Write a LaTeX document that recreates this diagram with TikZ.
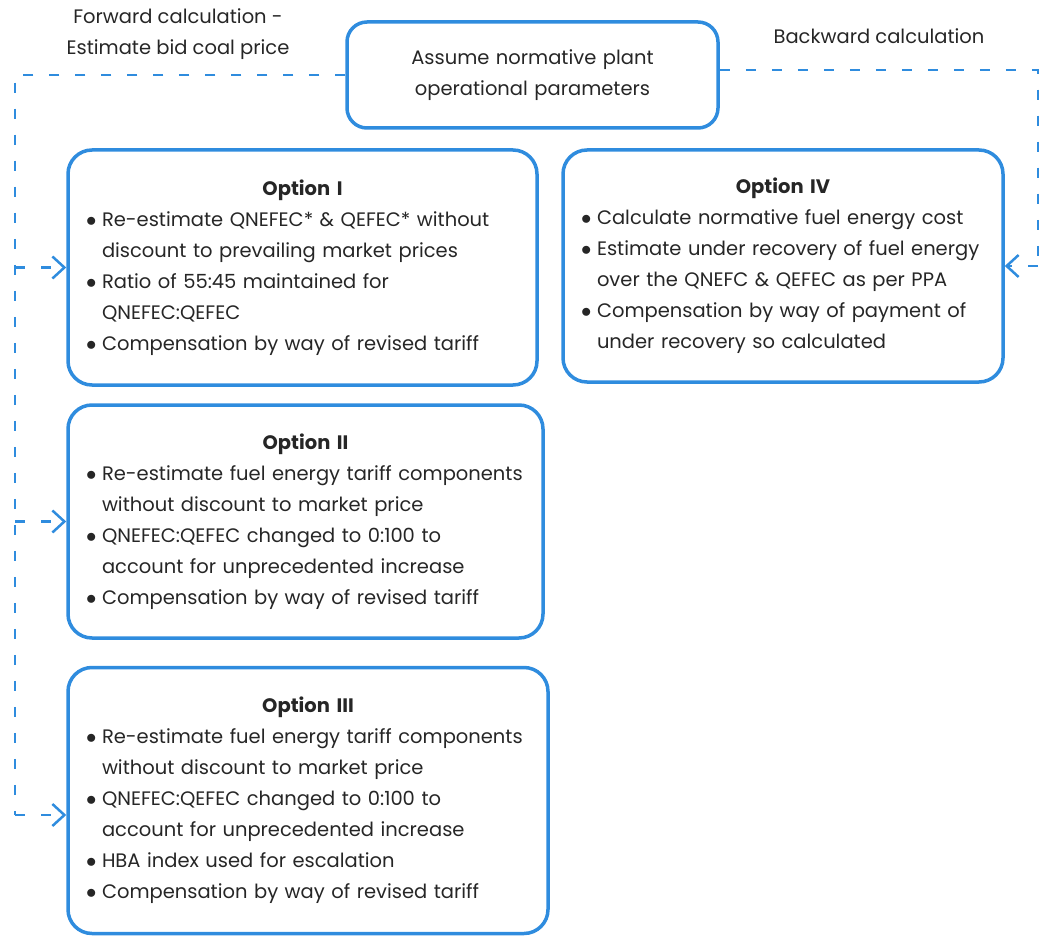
\documentclass[tikz,border=0pt]{standalone}
\usepackage{fontspec}
\setmainfont{Poppins}
\usetikzlibrary{arrows.meta}

\definecolor{flowblue}{RGB}{47,140,222}
\definecolor{inktext}{RGB}{38,38,38}

\newcommand{\optfont}{\fontsize{19.5}{31}\selectfont\hyphenpenalty=10000\exhyphenpenalty=10000}
\newcommand{\opttitle}[1]{{\centering\bfseries #1\par}}
\newcommand{\optbul}[1]{\par\hangindent=16pt\hangafter=1\noindent\makebox[16pt][l]{$\bullet$}#1\par}

\tikzset{
  optbox/.style={draw=flowblue, line width=3.5pt, rounded corners=24pt,
    text=inktext, font=\optfont, align=left, inner xsep=18pt, inner ysep=0pt},
  topbox/.style={optbox, align=center, rounded corners=20pt},
  sidelabel/.style={text=inktext, font=\optfont, align=center, inner sep=0pt},
  flowdash/.style={draw=flowblue, line width=2.5pt, dash pattern=on 10pt off 16pt},
  flowarrow/.style={flowdash, -{Straight Barb[length=12pt,width=22pt,line width=2.5pt]}}
}

\begin{document}
\begin{tikzpicture}[x=1pt,y=-1pt]
    \useasboundingbox (0,0) rectangle (1041,936);

    \node[topbox, text width=335pt, minimum height=106pt] (assume) at (532.5,75)
        {Assume normative plant\\operational parameters\\[-7pt]};

    \node[sidelabel] (fwdlabel) at (178,34) {Forward calculation -\\Estimate bid coal price};
    \node[sidelabel] (bwdlabel) at (879,36) {Backward calculation};

    \node[optbox, text width=433pt, minimum height=235pt] (opt1) at (302.5,267.5) {%
        \opttitle{Option I}
        \optbul{Re-estimate QNEFEC* \& QEFEC* without\newline discount to prevailing market prices}
        \optbul{Ratio of 55:45 maintained for\newline QNEFEC:QEFEC}
        \optbul{Compensation by way of revised tariff}};

    \node[optbox, text width=404pt, minimum height=232pt] (opt4) at (783,266) {%
        \opttitle{Option IV}
        \optbul{Calculate normative fuel energy cost}
        \optbul{Estimate under recovery of fuel energy\newline over the QNEFC \& QEFEC as per PPA}
        \optbul{Compensation by way of payment of\newline under recovery so calculated}};

    \node[optbox, text width=439pt, minimum height=233pt] (opt2) at (305.5,521.5) {%
        \opttitle{Option II}
        \optbul{Re-estimate fuel energy tariff components\newline without discount to market price}
        \optbul{QNEFEC:QEFEC changed to 0:100 to\newline account for unprecedented increase}
        \optbul{Compensation by way of revised tariff}};

    \node[optbox, text width=444pt, minimum height=266pt] (opt3) at (308,800.5) {%
        \opttitle{Option III}
        \optbul{Re-estimate fuel energy tariff components\newline without discount to market price}
        \optbul{QNEFEC:QEFEC changed to 0:100 to\newline account for unprecedented increase}
        \optbul{HBA index used for escalation}
        \optbul{Compensation by way of revised tariff}};

    \coordinate (fwdtop) at (15,75);
    \coordinate (fwdbot) at (15,815);
    \coordinate (bwdtop) at (1038,70);
    \coordinate (bwdbot) at (1038,266);

    % forward calculation
    \draw[flowdash] (assume.west) -- (fwdtop) -- (fwdbot);
    \draw[flowarrow] (fwdbot) -- (opt3.west |- fwdbot);
    \draw[flowarrow] (fwdtop |- opt1.west) -- (opt1.west);
    \draw[flowarrow] (fwdtop |- opt2.west) -- (opt2.west);

    % backward calculation
    \draw[flowdash] (assume.east |- bwdtop) -- (bwdtop) -- (bwdbot);
    \draw[flowarrow] (bwdbot) -- (opt4.east);

\end{tikzpicture}
\end{document}
